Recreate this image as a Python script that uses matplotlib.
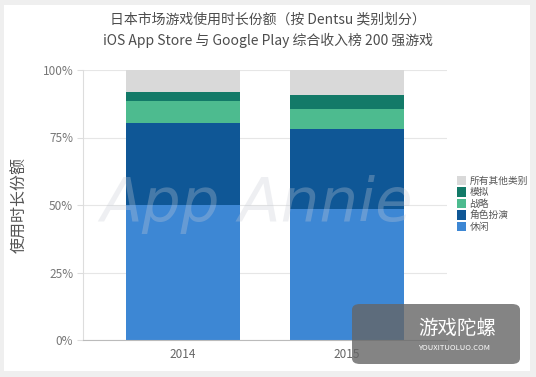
import matplotlib.pyplot as plt
from matplotlib.patches import Rectangle, FancyBboxPatch
from matplotlib.ticker import FuncFormatter

plt.rcParams['font.family'] = ['Noto Sans CJK SC', 'DejaVu Sans']

years = ['2014', '2015']
categories = ['休闲', '角色扮演', '战略', '模拟', '所有其他类别']
casual = [50.0, 48.5]
rpg = [30.2, 29.5]
strategy = [8.2, 7.6]
simulation = [3.5, 5.3]
others = [8.1, 9.1]
colors = ['#3d87d4', '#0f5796', '#4dbb8f', '#137a68', '#d9d9d9']

series = [casual, rpg, strategy, simulation, others]

fig = plt.figure(figsize=(5.36, 3.77), dpi=100, facecolor='#efefef')
fig.patches.append(Rectangle((4 / 536, 6 / 377), 526 / 536, 366 / 377,
                             transform=fig.transFigure, facecolor='white',
                             edgecolor='none', zorder=-5))

ax = fig.add_axes([83 / 536, 37 / 377, 364 / 536, 270 / 377])
ax.set_facecolor('none')

x = range(len(years))
bottom = [0, 0]
handles = []
for vals, col, name in zip(series, colors, categories):
    h = ax.bar(x, vals, bottom=bottom, width=0.695, color=col, label=name, zorder=2)
    handles.append(h)
    bottom = [b + v for b, v in zip(bottom, vals)]

ax.set_xlim(-0.61, 1.61)
ax.set_ylim(0, 100)
ax.set_yticks([0, 25, 50, 75, 100])
ax.yaxis.set_major_formatter(FuncFormatter(lambda v, p: f'{int(v)}%'))
ax.set_xticks(list(x))
ax.set_xticklabels(years)
ax.grid(axis='y', color='#e6e6e6', linewidth=0.8, zorder=0)
for s in ['top', 'right']:
    ax.spines[s].set_visible(False)
ax.spines['left'].set_color('#dddddd')
ax.spines['bottom'].set_color('#bbbbbb')
ax.tick_params(axis='y', colors='#777777', labelsize=8.5, length=4, color='#dddddd', pad=3)
ax.tick_params(axis='x', colors='#666666', labelsize=8.5, length=0, pad=6)
ax.set_ylabel('使用时长份额', fontsize=11.5, color='#555555', labelpad=10)

# watermark
ax.text(0.45, 50, 'App Annie', fontsize=44, style='italic', color='#c8ccd6',
        alpha=0.3, ha='center', va='center', zorder=3,
        family=['Liberation Sans Narrow', 'DejaVu Sans'])

fig.text(0.5, 1 - 19 / 377, '日本市场游戏使用时长份额（按 Dentsu 类别划分）',
         ha='center', va='center', fontsize=10, color='#4d4d4d', weight='medium')
fig.text(0.5, 1 - 40 / 377, 'iOS App Store 与 Google Play 综合收入榜 200 强游戏',
         ha='center', va='center', fontsize=10, color='#4d4d4d', weight='medium')

leg = fig.legend(handles[::-1], categories[::-1], loc='upper left',
                 bbox_to_anchor=(453 / 536, 1 - 172 / 377), frameon=False,
                 fontsize=7, handlelength=0.9, handleheight=1.1,
                 handletextpad=0.4, labelspacing=0.15, borderaxespad=0)
for t in leg.get_texts():
    t.set_color('#555555')

# site badge
badge = FancyBboxPatch((352 / 536, 13 / 377), 168 / 536, 60 / 377,
                       boxstyle='round,pad=0,rounding_size=0.015',
                       transform=fig.transFigure, facecolor='#666666',
                       edgecolor='none', alpha=0.8, zorder=5)
fig.patches.append(badge)
fig.text(418 / 536, 1 - 328 / 377, '游戏陀螺', fontsize=14, color='white',
         va='center', ha='left', zorder=6)
fig.text(418 / 536, 1 - 348 / 377, 'YOUXITUOLUO.COM', fontsize=5.5, color='white',
         va='center', ha='left', zorder=6)

fig.savefig('out.png', dpi=100, facecolor=fig.get_facecolor())
